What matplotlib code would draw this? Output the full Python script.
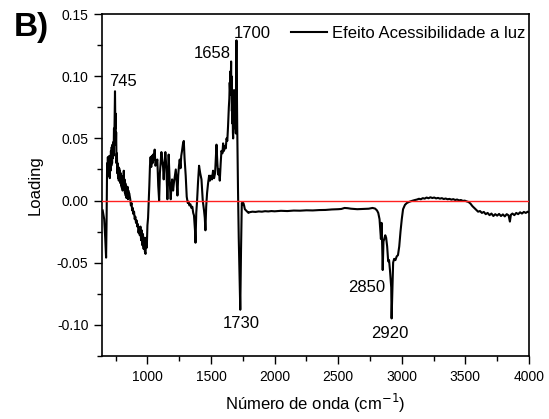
import matplotlib
matplotlib.use("Agg")
import matplotlib.pyplot as plt
from matplotlib.ticker import MultipleLocator, FormatStrFormatter

plt.rcParams['font.family'] = ['Liberation Sans', 'DejaVu Sans']

# Loading spectrum, split by region (wavenumber in cm-1, loading value)
wn_low = [
    648, 660, 668, 675, 679, 683, 686, 689, 692, 695, 698, 701, 704, 707, 710,
    713, 716, 719, 722, 725, 728, 731, 734, 737, 740, 742, 745, 748, 750, 752,
    754, 757, 760, 763, 766, 769, 772, 775, 778, 781, 784, 787, 790, 793, 796,
    799, 802, 805, 808, 811, 814, 817, 820, 823, 826, 829, 832, 835, 838, 841,
    844, 847, 850, 853, 856, 860, 865, 870, 875, 880, 885, 890, 895, 900,
]
load_low = [
    -0.008, -0.015, -0.030, -0.046, -0.015, 0.030, 0.022, 0.035, 0.024, 0.033,
    0.020, 0.036, 0.018, 0.031, 0.024, 0.040, 0.028, 0.043, 0.030, 0.045,
    0.034, 0.047, 0.036, 0.058, 0.050, 0.068, 0.088, 0.058, 0.070, 0.045,
    0.055, 0.030, 0.038, 0.022, 0.030, 0.018, 0.027, 0.016, 0.026, 0.019,
    0.024, 0.014, 0.022, 0.012, 0.020, 0.010, 0.018, 0.008, 0.015, 0.010,
    0.024, 0.011, 0.017, 0.006, 0.014, 0.004, 0.012, 0.002, 0.010, 0.004,
    0.011, 0.001, 0.008, 0.002, 0.006, 0.004, 0.001, -0.004, -0.002, -0.008,
    -0.006, -0.011, -0.009, -0.015,
]

wn_finger = [
    905, 910, 915, 920, 925, 930, 935, 940, 945, 950,
    955, 960, 965, 970, 975, 980, 985, 990, 995, 1000,
    1005, 1010, 1015, 1020, 1025, 1030, 1035, 1040, 1044, 1050,
    1057, 1063, 1070, 1078, 1085, 1092, 1098, 1104, 1110, 1116,
    1123, 1128, 1134, 1141, 1149, 1157, 1162, 1167, 1175, 1183,
    1188, 1194, 1202, 1208, 1215, 1223, 1230, 1236, 1242, 1248,
    1254, 1260, 1266, 1272, 1280, 1286, 1292, 1301, 1309, 1317,
    1323, 1330, 1338, 1346, 1353, 1360, 1366, 1370, 1374, 1378,
    1384, 1390, 1398, 1406, 1415, 1425, 1435, 1445, 1451, 1456,
    1462, 1469, 1477, 1485, 1492, 1500, 1508, 1516, 1524, 1532,
    1538, 1543, 1550, 1556, 1562, 1569, 1576, 1582, 1590, 1595,
    1602, 1610, 1616, 1622, 1628, 1634, 1640,
]
load_finger = [
    -0.013, -0.018, -0.016, -0.021, -0.019, -0.026, -0.022, -0.028, -0.021, -0.032,
    -0.024, -0.036, -0.027, -0.039, -0.030, -0.041, -0.043, -0.030, -0.038, -0.020,
    -0.014, -0.002, 0.012, 0.028, 0.035, 0.027, 0.036, 0.030, 0.037, 0.033,
    0.041, 0.028, 0.030, 0.033, 0.012, 0.000, 0.022, 0.030, 0.039, 0.032,
    0.027, 0.017, 0.030, 0.039, 0.026, 0.001, 0.020, 0.037, 0.015, 0.001,
    0.010, 0.017, 0.008, 0.014, 0.019, 0.025, 0.015, 0.004, 0.020, 0.028,
    0.033, 0.026, 0.036, 0.040, 0.046, 0.048, 0.034, 0.020, 0.003, -0.002,
    -0.001, -0.004, -0.003, -0.006, -0.005, -0.010, -0.012, -0.018, -0.024, -0.034,
    -0.010, -0.001, 0.015, 0.028, 0.022, 0.017, 0.000, -0.008, -0.014, -0.024,
    -0.005, 0.006, 0.014, 0.020, 0.016, 0.020, 0.017, 0.024, 0.018, 0.022,
    0.035, 0.045, 0.030, 0.021, 0.025, 0.016, 0.030, 0.040, 0.038, 0.046,
    0.040, 0.044, 0.042, 0.050, 0.048, 0.060, 0.075,
]

wn_carbonyl = [
    1644, 1647, 1650, 1652, 1655, 1658, 1660, 1662, 1664, 1666,
    1668, 1670, 1672, 1674, 1676, 1678, 1681, 1683, 1685, 1687,
    1689, 1691, 1693, 1695, 1698, 1700, 1706, 1712, 1718, 1724,
    1730, 1736, 1742, 1748, 1754, 1760, 1766, 1775, 1785, 1795,
]
load_carbonyl = [
    0.082, 0.095, 0.088, 0.104, 0.092, 0.112, 0.085, 0.100, 0.072, 0.088,
    0.062, 0.078, 0.055, 0.050, 0.070, 0.058, 0.089, 0.072, 0.086, 0.066,
    0.080, 0.060, 0.070, 0.054, 0.110, 0.129, 0.060, 0.010, -0.030, -0.060,
    -0.088, -0.040, -0.002, -0.003, -0.002, -0.004, -0.007, -0.008, -0.009, -0.010,
]

wn_ch = [
    1800, 1825, 1850, 1875, 1900, 1925, 1950, 1975, 2000, 2050,
    2100, 2150, 2200, 2250, 2300, 2350, 2400, 2450, 2500, 2525,
    2550, 2575, 2600, 2650, 2700, 2740, 2770, 2790, 2805, 2815,
    2825, 2832, 2836, 2841, 2846, 2850, 2856, 2862, 2870, 2877,
    2885, 2893, 2900, 2907, 2913, 2917, 2920, 2926, 2932, 2940,
    2950, 2960, 2970, 2980, 2990, 3000, 3010, 3025, 3040, 3060,
]
load_ch = [
    -0.0095, -0.0090, -0.0092, -0.0088, -0.0090, -0.0086, -0.0088, -0.0085, -0.0087, -0.0083,
    -0.0085, -0.0081, -0.0082, -0.0079, -0.0080, -0.0077, -0.0076, -0.0072, -0.0070, -0.0068,
    -0.0060, -0.0062, -0.0066, -0.0070, -0.0068, -0.0066, -0.0060, -0.0065, -0.0080, -0.0100,
    -0.0150, -0.0250, -0.0310, -0.0180, -0.0370, -0.0560, -0.0330, -0.0310, -0.0280, -0.0300,
    -0.0370, -0.0490, -0.0480, -0.0560, -0.0640, -0.0700, -0.0950, -0.0720, -0.0500, -0.0470,
    -0.0480, -0.0450, -0.0440, -0.0370, -0.0250, -0.0150, -0.0070, -0.0035, -0.0020, -0.0010,
]

wn_high = [
    3080, 3100, 3120, 3135, 3150, 3165, 3180, 3195, 3210, 3225,
    3240, 3255, 3270, 3285, 3300, 3315, 3330, 3345, 3360, 3375,
    3390, 3405, 3420, 3435, 3450, 3465, 3480, 3495, 3510, 3525,
    3540, 3555, 3570, 3585, 3600, 3615, 3630, 3645, 3660, 3675,
    3690, 3705, 3720, 3735, 3750, 3765, 3780, 3795, 3810, 3825,
    3840, 3850, 3858, 3870, 3885, 3900, 3915, 3930, 3945, 3960,
    3975, 3990, 4000,
]
load_high = [
    -0.0003, 0.0003, 0.0008, 0.0014, 0.0010, 0.0019, 0.0015, 0.0024, 0.0018, 0.0026,
    0.0020, 0.0024, 0.0017, 0.0021, 0.0015, 0.0019, 0.0012, 0.0016, 0.0010, 0.0013,
    0.0007, 0.0011, 0.0004, 0.0008, 0.0001, 0.0004, -0.0003, -0.0001, -0.0007, -0.0012,
    -0.0025, -0.0045, -0.0060, -0.0075, -0.0090, -0.0085, -0.0100, -0.0092, -0.0110, -0.0100,
    -0.0118, -0.0105, -0.0125, -0.0110, -0.0122, -0.0108, -0.0125, -0.0112, -0.0128, -0.0110,
    -0.0120, -0.0170, -0.0115, -0.0105, -0.0118, -0.0100, -0.0110, -0.0095, -0.0105, -0.0092,
    -0.0100, -0.0090, -0.0095,
]

wavenumber = wn_low + wn_finger + wn_carbonyl + wn_ch + wn_high
loading = load_low + load_finger + load_carbonyl + load_ch + load_high

# Band labels and where each label text sits
band_labels = ['745', '1658', '1700', '1730', '2850', '2920']
band_label_x = [810, 1510, 1828, 1734, 2722, 2902]
band_label_y = [0.0955, 0.1188, 0.1349, -0.0991, -0.0701, -0.1071]

series_name = 'Efeito Acessibilidade a luz'

fig = plt.figure(figsize=(5.49, 4.19), dpi=100)
ax = fig.add_axes([0.1863, 0.1511, 0.7772, 0.8148])

ax.plot(wavenumber, loading, color='black', lw=1.5, label=series_name, zorder=2)
ax.axhline(0, color='#ff2020', lw=1.0, zorder=3)

for txt, tx, ty in zip(band_labels, band_label_x, band_label_y):
    ax.text(tx, ty, txt, ha='center', va='center', fontsize=12, color='black')

ax.set_xlim(645, 4000)
ax.set_ylim(-0.125, 0.15)
ax.xaxis.set_major_locator(MultipleLocator(500))
ax.xaxis.set_minor_locator(MultipleLocator(250))
ax.yaxis.set_major_locator(MultipleLocator(0.05))
ax.yaxis.set_minor_locator(MultipleLocator(0.025))
ax.yaxis.set_major_formatter(FormatStrFormatter('%.2f'))

ax.tick_params(which='major', direction='out', length=6, width=1.0,
               labelsize=10, top=False, right=False, pad=4)
ax.tick_params(which='minor', direction='out', length=3.5, width=1.0,
               top=False, right=False)
for sp in ax.spines.values():
    sp.set_linewidth(1.2)

ax.set_xlabel('Número de onda (cm$^{-1}$)', fontsize=12, labelpad=6)
ax.set_ylabel('Loading', fontsize=12, labelpad=10)

ax.legend(loc='upper right', bbox_to_anchor=(0.9906, 0.966),
          frameon=False, fontsize=12, handlelength=2.2,
          handletextpad=0.25, borderaxespad=0, borderpad=0)

fig.text(0.025, 0.972, 'B)', fontsize=24, fontweight='bold',
         ha='left', va='top')

fig.savefig('out.png', dpi=100)
